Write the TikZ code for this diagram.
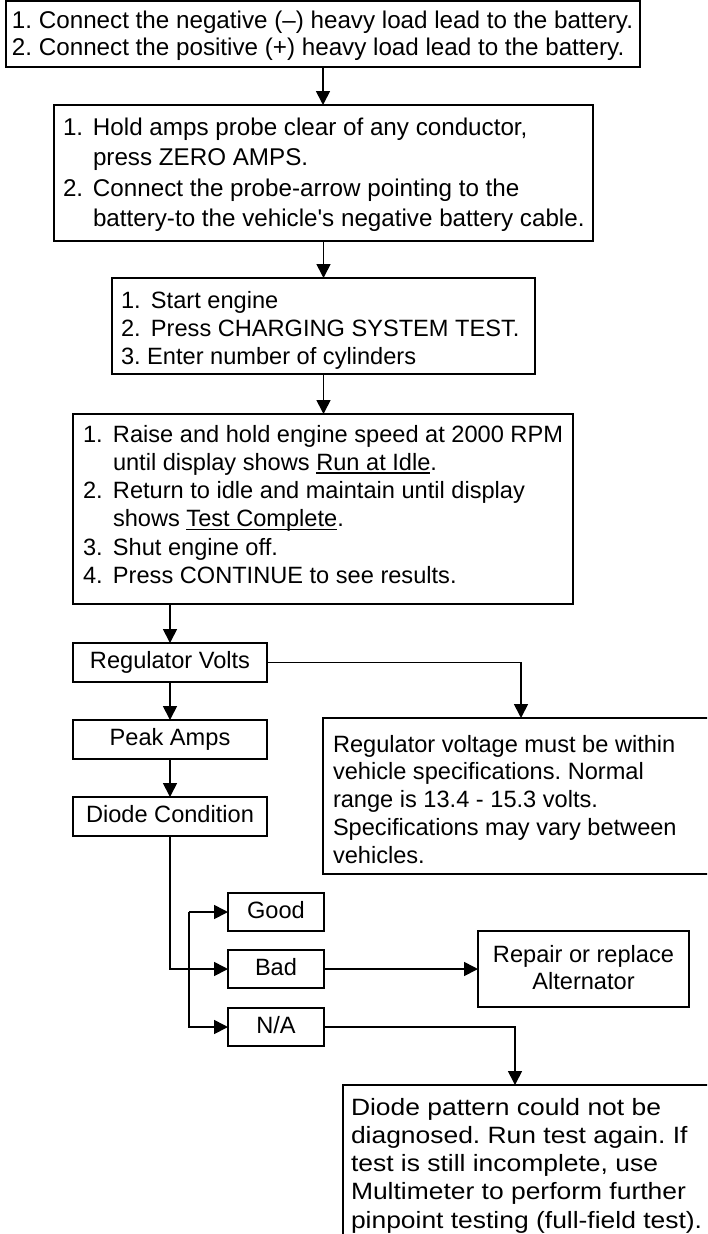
\documentclass[tikz,border=0pt]{standalone}
\usepackage{fontspec}
\setmainfont{Liberation Sans}
\newfontfamily\widesans{Liberation Sans}[FakeStretch=1.12]
\usetikzlibrary{arrows.meta,calc}

% fixed-width slot for the step numbers of a list
\newcommand\stepno[1]{\makebox[30pt][l]{#1}}
\newcommand\contd{\hspace*{30pt}}
% underline drawn at a fixed depth under the baseline
\newcommand\uln[1]{\setbox0\hbox{#1}\rlap{\rule[-3.2pt]{\wd0}{1.4pt}}\box0}
% block of unbroken lines, left-aligned in a slot of width #1
\newcommand\lines[2]{\makebox[#1][l]{\begin{tabular}[t]{@{}l@{}}#2\end{tabular}}}
\newcommand\clines[1]{\begin{tabular}[t]{@{}c@{}}#1\end{tabular}}

\begin{document}
\begin{tikzpicture}[x=1pt,y=-1pt,
  box/.style={draw, line width=2.7pt, outer sep=0pt, anchor=north west,
    inner ysep=0pt, font=\fontsize{23.6}{28.3}\selectfont\frenchspacing},
  cbox/.style={box, inner xsep=0pt, text height=17pt, text depth=5pt},
  arr/.style={line width=1.7pt, -{Triangle[length=14pt,width=14pt]}}]

\fill[white] (0,0) rectangle (707,1234);
\clip (0,0) rectangle (707,1234);

% ---- main sequence of steps ----
\node[box, inner xsep=6pt, text height=27pt, text depth=39pt,
      font=\fontsize{24.2}{27}\selectfont\frenchspacing] (b1) at (6,1)
  {\lines{622pt}{1. Connect the negative (–) heavy load lead to the battery.\\
   2. Connect the positive (+) heavy load lead to the battery.}};

\node[box, inner xsep=9pt, text height=30pt, text depth=106pt,
      font=\fontsize{24.2}{30.5}\selectfont\frenchspacing] (b2) at (54,105)
  {\lines{521pt}{\stepno{1.}Hold amps probe clear of any conductor,\\
   \contd press ZERO AMPS.\\
   \stepno{2.}Connect the probe-arrow pointing to the\\
   \contd battery-to the vehicle\textquotesingle s negative battery cable.}};

\node[box, inner xsep=9pt, text height=30pt, text depth=66pt] (b3) at (112,278)
  {\lines{405pt}{\stepno{1.}Start engine\\
   \stepno{2.}Press CHARGING SYSTEM TEST.\\
   3. Enter number of cylinders}};

\node[box, inner xsep=10pt, text height=28pt, text depth=162pt] (b4) at (73,414)
  {\lines{480pt}{\stepno{1.}Raise and hold engine speed at 2000 RPM\\
   \contd until display shows \uln{Run at Idle}.\\
   \stepno{2.}Return to idle and maintain until display\\
   \contd shows \uln{Test Complete}.\\
   \stepno{3.}Shut engine off.\\
   \stepno{4.}Press CONTINUE to see results.}};

% ---- results ----
\node[cbox, minimum width=194pt, minimum height=39pt] (rv) at (73,643) {Regulator Volts};
\node[cbox, minimum width=194pt, minimum height=39pt] (pa) at (73,720) {Peak Amps};
\node[cbox, minimum width=194pt, minimum height=39pt] (dc) at (73,797) {Diode Condition};

\node[box, inner xsep=10pt, text height=34pt, text depth=122pt,
      font=\fontsize{23.6}{27.75}\selectfont\frenchspacing] (reg) at (323,718)
  {\lines{400pt}{Regulator voltage must be within\\
   vehicle specifications. Normal\\
   range is 13.4 - 15.3 volts.\\
   Specifications may vary between\\
   vehicles.}};

\node[cbox, minimum width=96pt, minimum height=38pt] (good) at (228,893) {Good};
\node[cbox, minimum width=96pt, minimum height=38pt] (bad)  at (228,950) {Bad};
\node[cbox, minimum width=96pt, minimum height=38pt] (na)   at (228,1008) {N/A};

\node[box, minimum width=211pt, inner xsep=0pt, text height=31pt, text depth=45pt,
      font=\fontsize{23.6}{27}\selectfont\frenchspacing] (rep) at (478,931)
  {\clines{Repair or replace\\Alternator}};

\node[box, inner xsep=8pt, text height=30pt, text depth=180pt,
      font=\widesans\fontsize{23.6}{28.3}\selectfont\frenchspacing] (diag) at (343,1085)
  {\lines{420pt}{Diode pattern could not be\\
   diagnosed. Run test again. If\\
   test is still incomplete, use\\
   Multimeter to perform further\\
   pinpoint testing (full-field test).}};

% ---- connectors ----
\draw[arr] (b1.south) -- (b1.south |- b2.north);
\draw[arr] (b2.south) -- (b2.south |- b3.north);
\draw[arr] (b3.south) -- (b3.south |- b4.north);
\draw[arr] (rv.north |- b4.south) -- (rv.north);
\draw[arr] (rv.south) -- (pa.north);
\draw[arr] (pa.south) -- (dc.north);
\draw[arr] (rv.east) -| ([xshift=198pt]reg.north west);
\draw[arr] (dc.south) |- (bad.west);
\draw[arr] ([xshift=-39pt]good.west) -- (good.west);
\draw[arr] ([xshift=-39pt]good.west) |- (na.west);
\draw[arr] (bad.east) -- (rep.west);
\draw[arr] (na.east) -| ([xshift=172pt]diag.north west);
\end{tikzpicture}
\end{document}
